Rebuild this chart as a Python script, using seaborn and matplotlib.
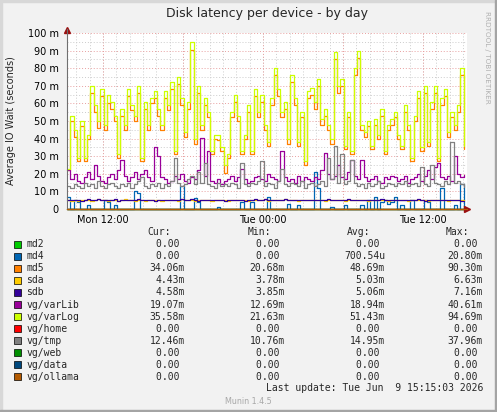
import matplotlib
matplotlib.use("Agg")
import matplotlib.pyplot as plt
from matplotlib.patches import Rectangle
import numpy as np
import pandas as pd
import seaborn as sns

# 15-minute samples, hours since Mon ~09:18
hours = [i * 0.25 for i in range(120)]

md4 = [7, 0, 5, 4, 0, 0, 2, 0, 0, 0, 0, 5, 4, 0, 2, 0, 0, 0, 0, 0, 10, 9, 0, 0,
       0, 0, 0, 0, 0, 0, 0, 0, 0, 0, 13, 0, 0, 0, 6, 4, 0, 0, 0, 0, 0, 1, 0, 0,
       0, 0, 0, 0, 4, 0, 0, 4, 0, 0, 0, 0, 7, 0, 0, 0, 0, 0, 3, 0, 0, 2, 0, 0, 0,
       0, 20.8, 12, 0, 0, 0, 1, 0, 0, 0, 2, 0, 0, 0, 0, 2, 0, 5, 0, 7, 0, 4, 5, 3, 4,
       7, 0, 2, 0, 0, 5, 0, 0, 0, 5, 4, 0, 0, 0, 12, 0, 0, 0, 2, 0, 14, 0]

md5 = [22, 50, 41, 27, 47, 27, 40, 66, 55, 46, 64, 45, 60, 57, 50, 29, 53, 45, 64, 56, 50, 66, 27, 57,
       45, 60, 63, 53, 45, 63, 56, 68, 31, 71, 59, 41, 57, 90.3, 37, 66, 45, 59, 52, 31, 40, 39, 33, 20.7,
       29, 52, 61, 50, 31, 40, 55, 31, 64, 52, 61, 45, 36, 59, 76, 64, 52, 57, 37, 72, 59, 36, 52, 25, 63,
       65, 57, 70, 48, 53, 45, 37, 85, 66, 70, 34, 52, 31, 76, 86, 45, 41, 47, 34, 48, 40, 53, 31, 45, 48,
       52, 40, 34, 55, 45, 27, 50, 63, 33, 66, 36, 57, 66, 27, 59, 64, 41, 52, 45, 55, 76, 34]

sda = [5.0, 4.6, 5.2, 4.8, 5.1, 4.9, 5.3, 4.7, 5.0, 5.4, 4.9, 5.1, 4.8, 5.0, 5.2, 4.6, 5.1, 5.5, 4.9, 5.0, 4.8, 5.2, 5.0, 4.7,
       5.1, 4.9, 5.3, 5.0, 4.8, 5.2, 4.9, 5.1, 5.0, 4.7, 5.4, 5.0, 4.9, 5.2, 4.8, 5.0, 5.1, 4.9, 5.3, 4.8, 5.0, 5.2, 4.9, 5.1,
       4.8, 5.0, 5.2, 4.9, 5.1, 5.0, 4.7, 5.3, 4.9, 5.1, 5.0, 5.4, 4.8, 5.0, 5.2, 4.9, 5.1, 5.5, 4.9, 5.0, 5.2, 4.8, 5.1, 4.9, 5.0,
       5.2, 4.9, 5.1, 5.0, 4.8, 5.3, 5.0, 4.9, 5.2, 5.1, 4.8, 5.0, 5.3, 4.9, 5.1, 5.0, 5.2, 4.8, 5.0, 5.1, 4.9, 5.2, 5.0, 4.7, 5.1,
       5.0, 4.9, 5.2, 5.1, 4.8, 5.0, 5.3, 4.9, 5.1, 5.0, 4.8, 5.2, 5.0, 4.9, 5.1, 5.0, 4.8, 5.2, 5.0, 5.1, 4.9, 4.43]

sdb = [5.2, 4.9, 5.0, 5.3, 4.8, 5.1, 5.4, 5.0, 4.9, 5.6, 5.1, 4.9, 5.0, 5.2, 5.5, 4.8, 5.0, 5.3, 5.1, 4.9, 5.0, 5.4, 5.2, 4.9,
       5.0, 5.2, 4.8, 5.1, 5.3, 5.0, 4.9, 5.2, 5.1, 5.0, 5.5, 4.9, 5.1, 5.4, 5.0, 4.8, 5.2, 5.0, 5.3, 5.1, 4.9, 5.2, 5.0, 4.8,
       5.1, 4.9, 5.3, 5.0, 5.2, 4.8, 5.1, 5.0, 5.4, 4.9, 5.2, 5.6, 5.0, 4.9, 5.3, 5.1, 5.0, 5.4, 5.2, 4.9, 5.1, 5.3, 5.0, 5.2, 4.9,
       5.3, 5.0, 5.2, 4.9, 5.1, 5.4, 5.0, 5.2, 5.1, 4.9, 5.0, 5.5, 5.1, 4.9, 5.2, 5.0, 5.3, 4.9, 5.1, 5.0, 5.2, 5.4, 4.9, 5.0, 5.2,
       5.1, 4.9, 5.3, 5.0, 5.2, 4.9, 5.1, 5.4, 5.0, 4.8, 5.1, 5.2, 4.9, 5.0, 5.3, 5.1, 4.9, 5.2, 5.0, 5.1, 4.8, 4.58]

var_lib = [22, 17, 20, 16, 15, 18, 21, 17, 25, 19, 16, 15, 18, 20, 17, 22, 28, 19, 16, 18, 21, 17, 20, 22,
           18, 16, 35, 30, 18, 17, 15, 16, 19, 17, 20, 16, 15, 18, 17, 22, 40.6, 19, 33, 16, 15, 17, 14, 16,
           17, 19, 16, 18, 23, 17, 15, 16, 18, 19, 17, 16, 20, 18, 17, 16, 33, 18, 16, 17, 15, 19, 16, 18, 17,
           16, 18, 17, 22, 32, 20, 17, 19, 25, 18, 17, 21, 28, 19, 17, 28, 18, 16, 17, 19, 16, 15, 18, 17, 19,
           18, 16, 17, 19, 15, 17, 18, 20, 16, 19, 22, 17, 24, 26, 18, 17, 19, 16, 30, 20, 18, 19.07]

var_log = [23, 53, 45, 29, 50, 29, 42, 70, 59, 50, 68, 48, 65, 61, 53, 31, 57, 48, 68, 59, 53, 70, 29, 61,
           48, 63, 67, 57, 48, 67, 59, 72, 33, 75, 63, 44, 61, 94.7, 40, 70, 48, 63, 55, 33, 42, 42, 35, 25,
           31, 55, 65, 53, 33, 42, 59, 33, 68, 55, 65, 48, 38, 63, 80, 68, 55, 61, 40, 76, 63, 38, 55, 27, 67,
           69, 61, 74, 51, 57, 48, 40, 89, 70, 74, 36, 55, 33, 80, 90, 48, 44, 50, 36, 51, 42, 57, 33, 48, 51,
           55, 42, 36, 59, 48, 29, 53, 67, 35, 70, 38, 61, 70, 29, 63, 68, 44, 55, 48, 59, 80, 35.6]

vg_tmp = [13, 12, 14, 13, 12, 15, 13, 14, 12, 16, 13, 12, 14, 15, 13, 12, 14, 13, 15, 12, 14, 16, 18, 13,
          12, 14, 13, 15, 12, 14, 13, 16, 29, 15, 13, 14, 17, 19, 14, 21, 15, 26, 14, 13, 12, 15, 13, 14,
          13, 15, 14, 12, 26, 14, 13, 15, 14, 16, 27, 13, 15, 14, 12, 16, 23, 14, 13, 15, 14, 13, 16, 12, 14,
          15, 13, 14, 16, 13, 29, 17, 36, 15, 31, 14, 16, 28, 15, 13, 14, 12, 15, 13, 14, 16, 12, 13, 15, 14,
          13, 15, 14, 16, 13, 14, 15, 13, 24, 14, 13, 25, 15, 14, 13, 16, 14, 38, 15, 16, 14, 12.5]

zero = [0.0] * len(hours)

devices = ["md2", "md4", "md5", "sda", "sdb", "vg/varLib", "vg/varLog",
           "vg/home", "vg/tmp", "vg/web", "vg/data", "vg/ollama"]
colors = ["#00cc00", "#0066b3", "#ff8000", "#ffcc00", "#330099", "#990099",
          "#ccff00", "#ff0000", "#808080", "#008f00", "#00487d", "#b35a00"]
series = [zero, md4, md5, sda, sdb, var_lib, var_log, zero, vg_tmp, zero, zero, zero]

cur_vals = ["0.00 ", "0.00 ", "34.06m", "4.43m", "4.58m", "19.07m", "35.58m", "0.00 ", "12.46m", "0.00 ", "0.00 ", "0.00 "]
min_vals = ["0.00 ", "0.00 ", "20.68m", "3.78m", "3.85m", "12.69m", "21.63m", "0.00 ", "10.76m", "0.00 ", "0.00 ", "0.00 "]
avg_vals = ["0.00 ", "700.54u", "48.69m", "5.03m", "5.06m", "18.94m", "51.43m", "0.00 ", "14.95m", "0.00 ", "0.00 ", "0.00 "]
max_vals = ["0.00 ", "20.80m", "90.30m", "6.63m", "7.16m", "40.61m", "94.69m", "0.00 ", "37.96m", "0.00 ", "0.00 ", "0.00 "]

tick_pos = [2.7, 14.7, 26.7]
tick_labels = ["Mon 12:00", "Tue 00:00", "Tue 12:00"]

for s in series:
    assert len(s) == len(hours), len(s)

rows = []
for name, vals in zip(devices, series):
    for h, v in zip(hours, vals):
        rows.append((name, h, v))
df = pd.DataFrame(rows, columns=["device", "hours", "value"])

sns.set_style("white")
plt.rcParams["font.family"] = ["DejaVu Sans"]

W, H = 497, 412
fig = plt.figure(figsize=(W / 100, H / 100), dpi=100, facecolor="#f2f2f2")

def fx(x):
    return x / W

def fy(y):
    return 1 - y / H

# frame
fig.patches.append(Rectangle((0, 0), fx(2), 1, transform=fig.transFigure, color="#d8d8d8", zorder=0))
fig.patches.append(Rectangle((0, 1 - 2 / H), 1, 2 / H, transform=fig.transFigure, color="#d8d8d8", zorder=0))
fig.patches.append(Rectangle((1 - 2 / W, 0), 2 / W, 1, transform=fig.transFigure, color="#a4a4a4", zorder=0))
fig.patches.append(Rectangle((0, 0), 1, 2 / H, transform=fig.transFigure, color="#a4a4a4", zorder=0))

ax = fig.add_axes([fx(67), fy(209), (467 - 67) / W, (209 - 33) / H])
ax.set_facecolor("white")
ax.set_xlim(0, 30)
ax.set_ylim(0, 100)

# grid
hour_lines = [t for t in np.arange(0.7, 30, 1.0)]
ax.vlines(hour_lines, 0, 100, colors="#cccccc", linestyles=(0, (1, 2)), linewidth=0.7, zorder=0)
ax.vlines([2.7, 8.7, 14.7, 20.7, 26.7], 0, 100, colors="#e8a0a0", linestyles=(0, (1, 2)), linewidth=0.7, zorder=0)
ax.hlines(np.arange(5, 100, 10), 0, 30, colors="#cccccc", linestyles=(0, (1, 2)), linewidth=0.7, zorder=0)
ax.hlines(np.arange(10, 101, 10), 0, 30, colors="#e8a0a0", linestyles=(0, (1, 2)), linewidth=0.7, zorder=0)

sns.lineplot(data=df, x="hours", y="value", hue="device", hue_order=devices,
             palette=colors, drawstyle="steps-post", linewidth=0.9,
             estimator=None, errorbar=None, legend=False, ax=ax)
for ln in ax.get_lines():
    ln.set_clip_on(False)

ax.set_xlabel("")
ax.set_ylabel("Average IO Wait (seconds)", fontsize=7)
ax.yaxis.set_label_coords(-(67 - 16) / 400, 0.5)
ax.set_xticks(tick_pos)
ax.set_xticklabels(tick_labels)
ax.set_yticks(range(0, 101, 10))
ax.set_yticklabels(["0"] + [f"{v} m" for v in range(10, 101, 10)])
ax.tick_params(axis="both", length=0, labelsize=7, colors="black")
ax.tick_params(axis="y", pad=6)
ax.tick_params(axis="x", pad=4)
for side in ["top", "right"]:
    ax.spines[side].set_visible(False)
ax.spines["left"].set_color("#707070")
ax.spines["left"].set_linewidth(0.8)
ax.spines["bottom"].set_color("#b35a00")
ax.spines["bottom"].set_linewidth(0.8)
ax.spines["left"].set_bounds(0, 102)
ax.plot([0], [1.017], marker="^", color="#9a1010", markersize=4.5, transform=ax.transAxes, clip_on=False)
ax.plot([1.0], [0], marker=">", color="#9a1010", markersize=4.5, transform=ax.transAxes, clip_on=False)

fig.text(fx(267), fy(14), "Disk latency per device - by day", ha="center", va="center", fontsize=9)
fig.text(fx(487), fy(57), "RRDTOOL / TOBI OETIKER", ha="center", va="center",
         rotation=270, fontsize=5.2, color="#b0b0b0")

# legend table
mono = "DejaVu Sans Mono"
for label, xr in zip(["Cur:", "Min:", "Avg:", "Max:"], [171, 271, 370, 469]):
    fig.text(fx(xr), fy(232), label, ha="right", va="center", family=mono, fontsize=7)
for k, name in enumerate(devices):
    y = 244.3 + 12.04 * k
    fig.patches.append(Rectangle((fx(13.5), fy(y + 3.6)), 7 / W, 7 / H, transform=fig.transFigure,
                                 facecolor=colors[k], edgecolor="black", linewidth=0.5))
    fig.text(fx(26.5), fy(y), name, ha="left", va="center", family=mono, fontsize=7)
    for vals, xr in zip([cur_vals, min_vals, avg_vals, max_vals], [185, 285, 385, 483]):
        fig.text(fx(xr), fy(y), vals[k], ha="right", va="center", family=mono, fontsize=7)

fig.text(fx(483), fy(388), "Last update: Tue Jun  9 15:15:03 2026", ha="right", va="center",
         family=mono, fontsize=7)
fig.text(fx(248), fy(401), "Munin 1.4.5", ha="center", va="center", fontsize=5.8, color="#a8a8a8")

fig.savefig("out.png", dpi=100, facecolor=fig.get_facecolor())
